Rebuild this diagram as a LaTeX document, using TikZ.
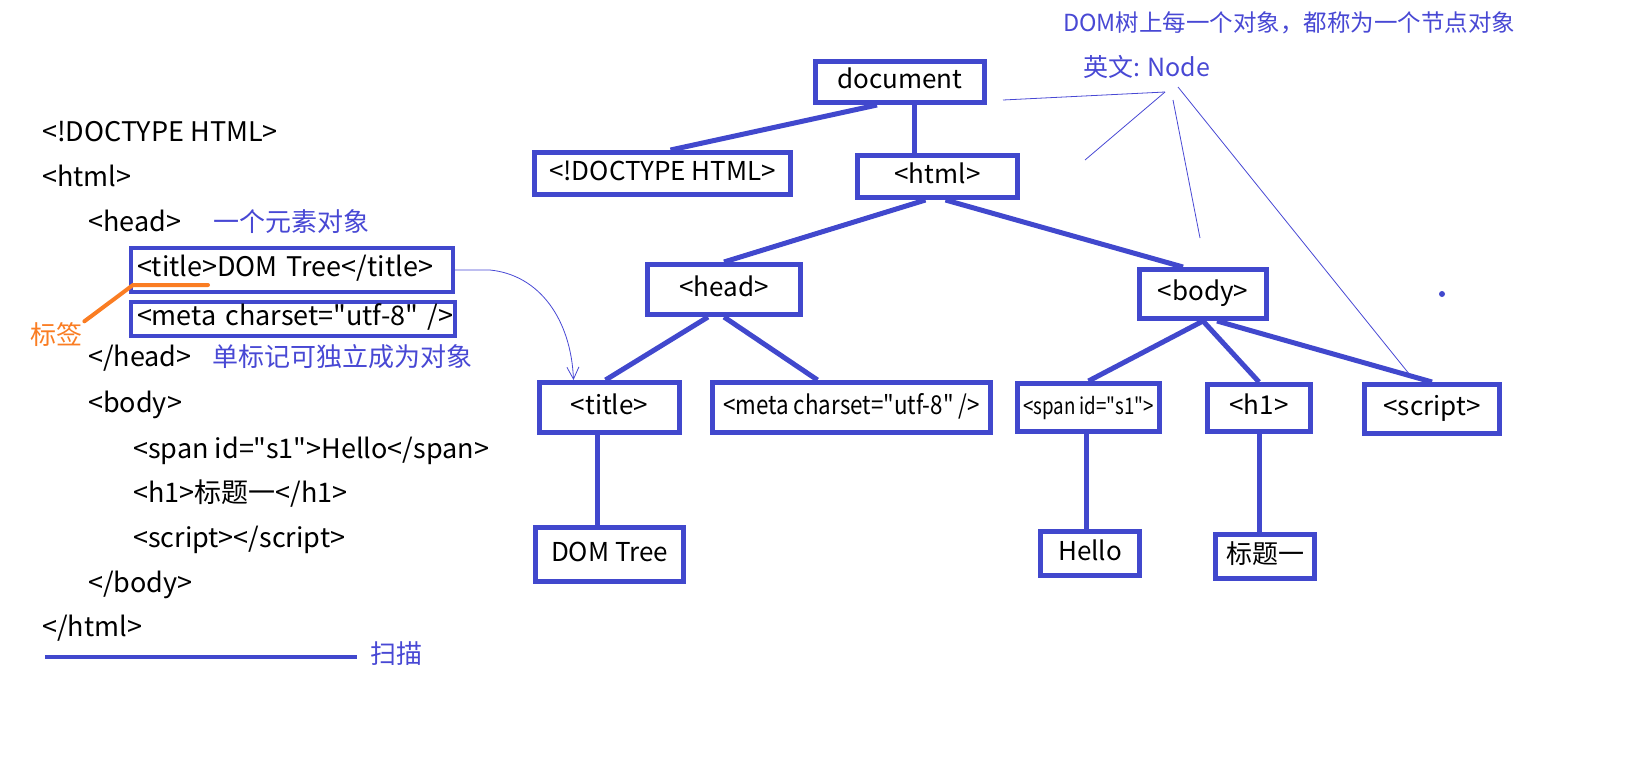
\documentclass[tikz,border=0pt]{standalone}
\usepackage{fontspec}
\setmainfont{Noto Sans CJK SC}[Ligatures=TeXOff]
\usepackage{graphicx}
\usetikzlibrary{arrows.meta, positioning, calc}
\definecolor{cbox}{RGB}{65, 72, 205}
\definecolor{cnote}{RGB}{72, 72, 212}
\definecolor{ctag}{RGB}{250, 125, 35}
\tikzset{
  tnode/.style={draw=cbox, line width=5pt, inner sep=0pt, text height=19pt, text depth=6pt,
                font=\fontsize{26}{30}\selectfont},
  link/.style={draw=cbox, line width=5pt},
  codeline/.style={anchor=west, inner sep=0pt, text height=19pt, text depth=6pt,
                   font=\fontsize{27}{31}\selectfont},
  cbx/.style={codeline, draw=cbox, line width=4pt, inner xsep=6pt, align=left},
  note/.style={anchor=west, inner sep=0pt, text=cnote, text height=19pt, text depth=6pt,
               font=\fontsize{26}{30}\selectfont},
  hint/.style={draw=cnote, line width=0.8pt},
}

\begin{document}
\begin{tikzpicture}[x=1pt, y=-1pt]
\useasboundingbox (0,0) rectangle (1626,780);

% ---------- 左侧：HTML 源码 ----------
\node[codeline] (l1) at (42,135) {<!DOCTYPE HTML>};
\node[codeline] (l2) at (42,180) {<html>};
\node[codeline] (l3) at (88,225) {<head>};
\node[cbx, text width=310pt, minimum height=44pt] (l4) at (129,270) {\mbox{<title>DOM Tree</title>}};
\node[cbx, text width=312pt, minimum height=34pt] (l5) at (129,319) {\mbox{<meta charset="utf-8" />}};
\node[codeline] (l6) at (88,360) {</head>};
\node[codeline] (l7) at (88,406) {<body>};
\node[codeline] (l8) at (133,452) {<span id="s1">Hello</span>};
\node[codeline] (l9) at (133,496) {<h1>标题一</h1>};
\node[codeline] (l10) at (133,541) {<script></script>};
\node[codeline] (l11) at (88,586) {</body>};
\node[codeline] (l12) at (42,630) {</html>};

\node[note] (elem) at (213,225) {一个元素对象};
\node[note] (single) at (212,360) {单标记可独立成为对象};
\node[note, text=ctag] (tag) at (30,338) {标签};
\node[note] (scan) at (370,657) {扫描};

\coordinate (tagA) at (208,285);
\coordinate (tagB) at (133,285);
\draw[ctag, line width=4pt, line cap=round] (tagA) -- (tagB) -- ([shift={(2,-4)}]tag.north east);

\coordinate (scan0) at (45,657);
\draw[cbox, line width=4pt] (scan0) -- ([xshift=-13pt]scan.west);

% ---------- 右侧：DOM 树 ----------
\node[tnode, minimum width=169pt, minimum height=41pt] (doc) at (900,82) {document};
\node[tnode, minimum width=256pt, minimum height=42pt] (doctype) at (662.5,173.5) {<!DOCTYPE HTML>};
\node[tnode, minimum width=160pt, minimum height=42pt] (html) at (937.5,176.5) {<html>};
\node[tnode, minimum width=153pt, minimum height=50pt] (head) at (724,289.5) {<head>};
\node[tnode, minimum width=127pt, minimum height=49pt] (body) at (1203,294) {<body>};
\node[tnode, minimum width=140pt, minimum height=50pt] (title) at (609.5,407.5) {<title>};
\node[tnode, minimum width=278pt, minimum height=50pt] (meta) at (851.5,407.5)
  {\scalebox{0.86}[1]{<meta charset="utf-8" />}};
\node[tnode, minimum width=142pt, minimum height=48pt] (span) at (1088.5,407.5)
  {\scalebox{0.72}[0.88]{<span id="s1">}};
\node[tnode, minimum width=103pt, minimum height=47pt] (hone) at (1259,408) {<h1>};
\node[tnode, minimum width=135pt, minimum height=49pt] (script) at (1432,409) {<script>};
\node[tnode, minimum width=148pt, minimum height=54pt] (domtree) at (609.5,554.5) {DOM Tree};
\node[tnode, minimum width=99pt, minimum height=44pt] (hello) at (1090,553.5) {Hello};
\node[tnode, minimum width=99pt, minimum height=44pt] (htext) at (1265,556.5) {标题一};

\draw[link] ([xshift=-23pt]doc.south) -- ([xshift=8pt]doctype.north);
\draw[link] ([xshift=14pt]doc.south) -- ([xshift=14pt]doc.south |- html.north);
\draw[link] ([xshift=-12pt]html.south) -- (head.north);
\draw[link] ([xshift=8pt]html.south) -- ([xshift=-20pt]body.north);
\draw[link] ([xshift=-16pt]head.south) -- ([xshift=-4pt]title.north);
\draw[link] (head.south) -- ([xshift=-34pt]meta.north);
\draw[link] ([xshift=-12pt]title.south) -- ([xshift=-12pt]title.south |- domtree.north);
\draw[link] (body.south) -- (span.north);
\draw[link] (body.south) -- (hone.north);
\draw[link] ([xshift=14pt]body.south) -- (script.north);
\draw[link] ([xshift=-2pt]span.south) -- ([xshift=-2pt]span.south |- hello.north);
\draw[link] (hone.south) -- (hone.south |- htext.north);

% ---------- 标注 ----------
\node[note, font=\fontsize{23.5}{28}\selectfont] (every) at (1063,25) {DOM树上每一个对象，都称为一个节点对象};
\node[note, font=\fontsize{25}{30}\selectfont] (eng) at (1083,70) {英文: Node};

\coordinate (hub) at (1165,92);
\coordinate (hA) at (1003,100);
\coordinate (hB) at (1085,160);
\coordinate (hC) at (1200,238);
\coordinate (hD) at (1410,375);
\draw[hint] (hub) -- (hA);
\draw[hint] (hub) -- (hB);
\draw[hint] ([shift={(8,8)}]hub) -- (hC);
\draw[hint] ([shift={(13,-5)}]hub) -- (hD);
\fill[cbox] (1442,294) circle (3pt);

\draw[hint, -{Straight Barb[length=12pt, width=12pt]}] (l4.east) -- ++(35,0)
  .. controls (540,275) and (571,320) .. ([xshift=-36pt]title.north);

\end{tikzpicture}
\end{document}
